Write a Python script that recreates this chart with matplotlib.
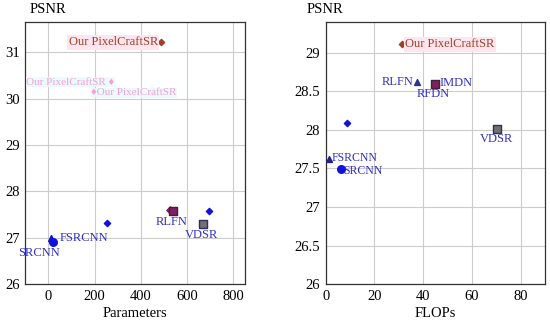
import matplotlib
matplotlib.use("Agg")
import matplotlib.pyplot as plt

plt.rcParams['font.family'] = ['Liberation Serif', 'DejaVu Serif']

# left panel: PSNR vs parameters
params_diamond = [252, 696]
psnr_diamond_l = [27.32, 27.58]
ours_params, ours_psnr_l = 490, 31.22
rlfn_params, rlfn_psnr_l = 538, 27.57
rlfn2_params, rlfn2_psnr_l = 527, 27.60
vdsr_params, vdsr_psnr_l = 668, 27.29
fsrcnn_params, fsrcnn_psnr_l = 13, 27.0
srcnn_params, srcnn_psnr_l = 20, 26.91

# right panel: PSNR vs FLOPs
flops_diamond, psnr_diamond_r = 8.6, 28.09
ours_flops, ours_psnr_r = 31.4, 29.11
rlfn_flops, rlfn_psnr_r = 37.5, 28.62
imdn_flops, imdn_psnr_r = 45.0, 28.59
vdsr_flops, vdsr_psnr_r = 70.2, 28.01
fsrcnn_flops, fsrcnn_psnr_r = 1.5, 27.62
srcnn_flops, srcnn_psnr_r = 6.3, 27.49

blue = '#1010e0'
lblue = '#3030c8'
brown = '#a0402a'
purple = '#802060'
pink_box = dict(boxstyle='square,pad=0.1', fc='#fde6ee', ec='none')

fig, (ax1, ax2) = plt.subplots(1, 2, figsize=(5.5, 3.27), dpi=100)
fig.subplots_adjust(left=0.046, right=0.991, top=0.933, bottom=0.131, wspace=0.37)

for ax in (ax1, ax2):
    ax.grid(True, color='#cccccc', linewidth=0.8)
    ax.set_axisbelow(True)
    for s in ax.spines.values():
        s.set_color('#333333')
        s.set_linewidth(0.9)
    ax.tick_params(labelsize=10.5, length=0, pad=4)

fig.text(30 / 550, 1 - 3 / 327, 'PSNR', fontsize=10.5, ha='left', va='top')
fig.text(307 / 550, 1 - 3 / 327, 'PSNR', fontsize=10.5, ha='left', va='top')

# ---- left
ax1.scatter(params_diamond, psnr_diamond_l, marker='D', s=10, color=blue, zorder=3)
ax1.scatter([ours_params], [ours_psnr_l], marker='D', s=10, color=brown, zorder=3)
ax1.text(ours_params - 15, ours_psnr_l, 'Our PixelCraftSR', color=brown, fontsize=9,
         ha='right', va='center', bbox=pink_box)
ax1.scatter([rlfn2_params], [rlfn2_psnr_l], marker='D', s=14, color=purple, zorder=3)
ax1.scatter([rlfn_params], [rlfn_psnr_l], marker='s', s=30, color=purple,
            edgecolors='#402040', zorder=3)
ax1.text(rlfn_params - 5, rlfn_psnr_l - 0.09, 'RLFN', color=lblue, fontsize=9,
         ha='center', va='top')
ax1.scatter([vdsr_params], [vdsr_psnr_l], marker='s', s=30, color='#707070',
            edgecolors='#303060', zorder=3)
ax1.text(vdsr_params - 5, vdsr_psnr_l - 0.09, 'VDSR', color=lblue, fontsize=9,
         ha='center', va='top')
ax1.scatter([fsrcnn_params], [fsrcnn_psnr_l], marker='^', s=18, color=blue, zorder=3)
ax1.scatter([srcnn_params], [srcnn_psnr_l], marker='o', s=30, color=blue, zorder=3)
ax1.text(fsrcnn_params + 35, fsrcnn_psnr_l, 'FSRCNN', color=lblue, fontsize=9,
         ha='left', va='center')
ax1.text(srcnn_params + 30, srcnn_psnr_l - 0.1, 'SRCNN', color=lblue, fontsize=9,
         ha='right', va='top')
# faint ghost labels
ghost_box = dict(boxstyle='square,pad=0.02', fc='#e6fbfb', ec='none', alpha=0.8)
ax1.text(-95, 30.36, 'Our PixelCraftSR \u2666', color='#f4a0d8', fontsize=8,
         ha='left', va='center', bbox=ghost_box)
ax1.text(185, 30.13, '\u2666Our PixelCraftSR', color='#f4a0d8', fontsize=8,
         ha='left', va='center', bbox=ghost_box)
ax1.set_xlim(-100, 850)
ax1.set_ylim(26, 31.66)
ax1.set_xticks([0, 200, 400, 600, 800])
ax1.set_yticks([26, 27, 28, 29, 30, 31])
ax1.set_xlabel('Parameters', fontsize=10.5, labelpad=3)

# ---- right
ax2.scatter([ours_flops], [ours_psnr_r], marker='D', s=10, color=brown, zorder=3)
ax2.text(ours_flops + 1.2, ours_psnr_r, 'Our PixelCraftSR', color=brown, fontsize=9,
         ha='left', va='center', bbox=pink_box)
ax2.scatter([rlfn_flops], [rlfn_psnr_r], marker='^', s=18, color='#303090', zorder=3)
ax2.text(rlfn_flops - 1.5, rlfn_psnr_r, 'RLFN', color=lblue, fontsize=9,
         ha='right', va='center')
ax2.scatter([imdn_flops], [imdn_psnr_r], marker='s', s=30, color=purple,
            edgecolors='#402040', zorder=3)
ax2.text(imdn_flops + 1.8, imdn_psnr_r + 0.02, 'IMDN', color=lblue, fontsize=9,
         ha='left', va='center')
ax2.text(imdn_flops - 1, imdn_psnr_r - 0.05, 'RFDN', color=lblue, fontsize=9,
         ha='center', va='top')
ax2.scatter([flops_diamond], [psnr_diamond_r], marker='D', s=10, color=blue, zorder=3)
ax2.scatter([vdsr_flops], [vdsr_psnr_r], marker='s', s=30, color='#707070',
            edgecolors='#303060', zorder=3)
ax2.text(vdsr_flops, vdsr_psnr_r - 0.05, 'VDSR', color=lblue, fontsize=9,
         ha='center', va='top')
ax2.scatter([fsrcnn_flops], [fsrcnn_psnr_r], marker='^', s=18, color='#202090', zorder=3)
ax2.text(fsrcnn_flops + 1.0, fsrcnn_psnr_r + 0.01, 'FSRCNN', color=lblue, fontsize=8.5,
         ha='left', va='center')
ax2.scatter([srcnn_flops], [srcnn_psnr_r], marker='o', s=30, color=blue, zorder=3)
ax2.text(srcnn_flops + 1.0, srcnn_psnr_r - 0.02, 'SRCNN', color=lblue, fontsize=8.5,
         ha='left', va='center')
ax2.set_xlim(0, 90)
ax2.set_ylim(26, 29.4)
ax2.set_xticks([0, 20, 40, 60, 80])
ax2.set_yticks([26, 26.5, 27, 27.5, 28, 28.5, 29])
ax2.set_yticklabels(['26', '26.5', '27', '27.5', '28', '28.5', '29'])
ax2.set_xlabel('FLOPs', fontsize=10.5, labelpad=3)

fig.savefig('out.png', dpi=100)
